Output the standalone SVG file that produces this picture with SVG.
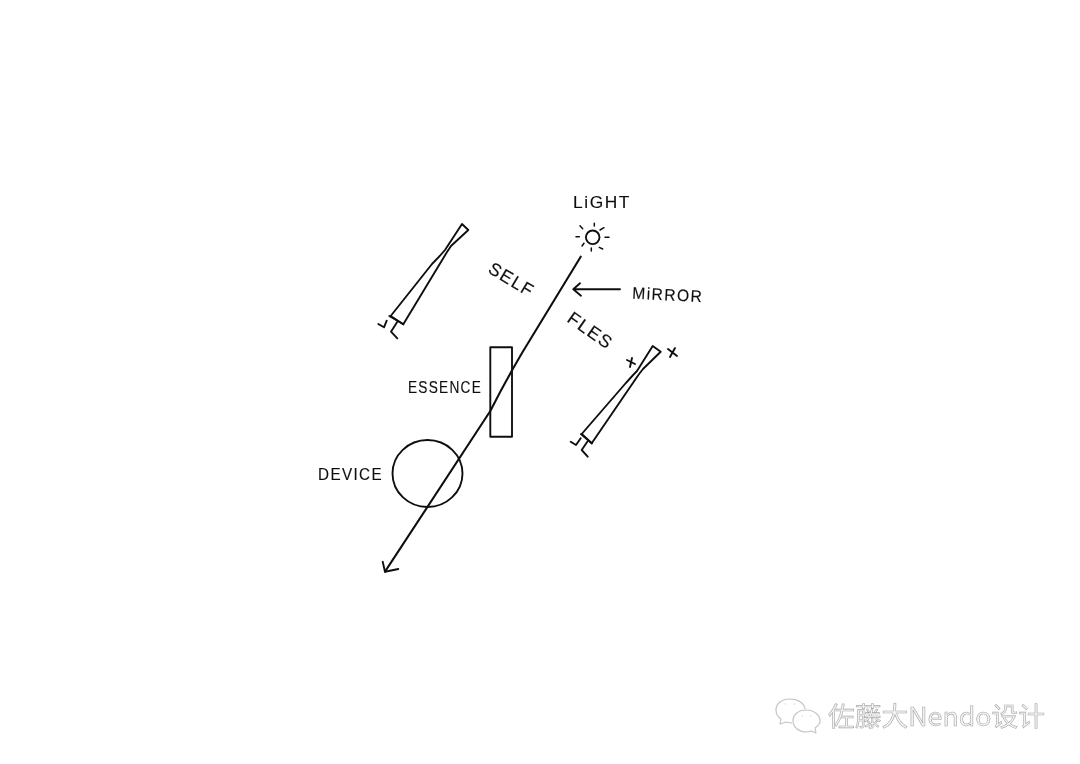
<svg xmlns="http://www.w3.org/2000/svg" width="1080" height="764" viewBox="0 0 1080 764">
<defs><filter id="soft" x="0" y="0" width="1" height="1" filterUnits="objectBoundingBox"><feGaussianBlur stdDeviation="0.35"/></filter></defs>
<style>
.ink{fill:none;stroke:#111;stroke-width:1.9;stroke-linecap:round;stroke-linejoin:round}
.t{font-family:"Liberation Sans",Arial,sans-serif;font-size:16.500px;letter-spacing:1.500px;fill:#111;stroke:#111;stroke-width:.15}
.wm{font-family:"Noto Sans CJK SC","Noto Sans",sans-serif;font-size:26px;fill:#f4f4f4;stroke:#a8a8a8;stroke-width:.6}
.wi{fill:none;stroke:#c4c4c4;stroke-width:1.2;stroke-linejoin:round}
</style>
<rect width="1080" height="764" fill="#fff"/>
<g filter="url(#soft)">
<rect width="1080" height="764" fill="#fff"/>
<g id="connectors">
<path class="ink" style="stroke-width:2.100" d="M580.7 256.7 L522 353 Q505 382 490.3 411 L385 571.7"/>
<path class="ink" d="M382.7 561.7 L385 571.7 L398.3 569"/>
<path class="ink" d="M620 289.3 L573.3 289.3 M580 283.3 L573.3 289.3 L581 295.7"/>
</g>
<g id="light">
<circle class="ink" cx="592.7" cy="237.3" r="6.800"/>
<path class="ink" style="stroke-width:1.500" d="M594.3 223.3 L594.3 226 M600 230 L604 227.7 M605 237.3 L609 237.3 M599.3 247.3 L602.7 249 M591.3 248 L591.3 251 M584 243.3 L582 246 M576 236.7 L579.3 236.7 M580 225.7 L582.7 228.7"/>
<text class="t" x="573" y="207.500" textLength="58" lengthAdjust="spacingAndGlyphs">LiGHT</text>
</g>
<g id="mirror-label"><text class="t" x="632" y="298.500" textLength="71" lengthAdjust="spacingAndGlyphs" transform="rotate(3 632 298.500)">MiRROR</text></g>
<g id="self"><text class="t" x="487" y="272" textLength="50" lengthAdjust="spacingAndGlyphs" transform="rotate(31 487 272)" style="font-size:18px">SELF</text></g>
<g id="fles"><text class="t" x="566" y="321" textLength="51" lengthAdjust="spacingAndGlyphs" transform="rotate(35 566 321)" style="font-size:18px">FLES</text></g>
<g id="mirror-left">
<path class="ink" d="M462 224 L468.300 230 L451 246 Q449 249 447 252 L403.300 324.300 L390.700 316 L432 264 Q440 256 445 250 Z"/>
<path class="ink" d="M389.300 316 L403.300 324.300 M386.700 320.700 L384 327.300 L378.300 324 M397.300 321.700 L391 331.700 L397.300 338.300"/>
</g>
<g id="mirror-right">
<path class="ink" d="M652.700 346 L660.700 351.700 L643 369 Q639 374 637 377 L591.700 443.300 L581.700 434 L625 384 Q633 375 637 371 Z"/>
<path class="ink" d="M581 434 L592 443.500 M580.700 438.300 L576 445 L570.700 441.700 M587.300 441.700 L581.700 450 L587.700 456.700"/>
<path class="ink" d="M627 360 L635 364 M632 358 L630 367 M668 349 L677 356 M675 348 L670 357"/>
</g>
<g id="essence">
<rect class="ink" x="490.300" y="347.300" width="21.700" height="89.400"/>
<text class="t" x="408" y="392.500" textLength="74" lengthAdjust="spacingAndGlyphs">ESSENCE</text>
</g>
<g id="device">
<ellipse class="ink" cx="427.500" cy="473.500" rx="35" ry="33.500"/>
<text class="t" x="318" y="480" textLength="65" lengthAdjust="spacingAndGlyphs">DEVICE</text>
</g>
<g id="watermark">
<path class="wi" d="M790 699 C781 699 776 704 776 710 C776 714 778 717 781 719 L780 724 L786 722 C788 722.500 790 723 792 723"/>
<path class="wi" d="M790 699 C798 699 804 703 805 709"/>
<path class="wi" d="M806 710 C798 710 793 715 793 721 C793 727 799 732 806 732 C808 732 810 731.500 811 731 L816 733 L815 728 C818 726 820 724 820 721 C820 715 814 710 806 710 Z"/>
<path class="wi" d="M785 704 h1 M794 704 h1 M802 716 h1 M810 716 h1"/>
<text class="wm" x="828" y="726" textLength="217" lengthAdjust="spacingAndGlyphs">佐藤大Nendo设计</text>
</g>
</g>
</svg>
